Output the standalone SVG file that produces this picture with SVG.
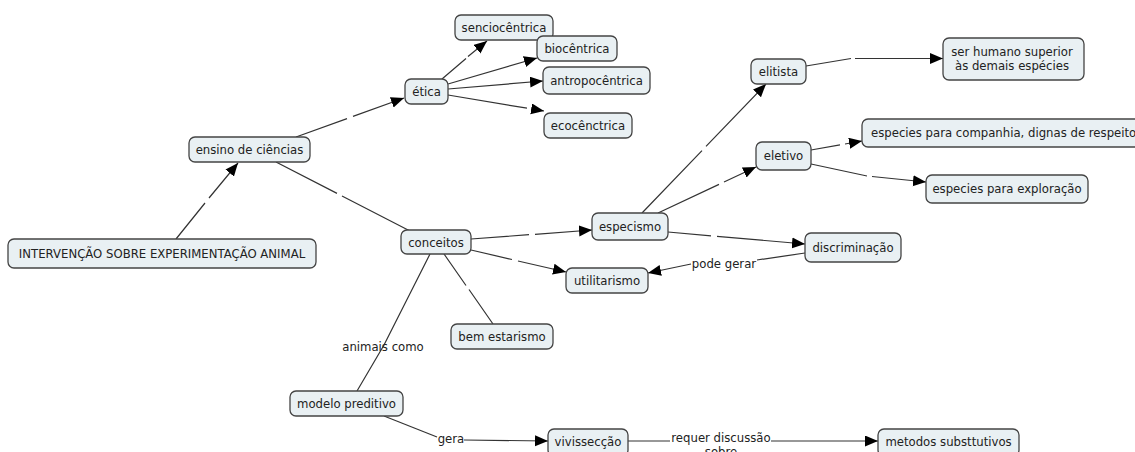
<svg xmlns="http://www.w3.org/2000/svg" width="1135" height="452" viewBox="0 0 1135 452">
<style>
.n rect{fill:#e9f0f3;stroke:#444;stroke-width:1.3}
text{font-family:"DejaVu Sans","Verdana",sans-serif;font-size:11.7px;fill:#222;text-anchor:middle}
.c path{fill:none;stroke:#333;stroke-width:1.2}
</style>
<defs>
<marker id="ah" markerUnits="userSpaceOnUse" markerWidth="14" markerHeight="12" refX="13" refY="5.5" orient="auto">
<path d="M0,0 L13,5.5 L0,11 Z" fill="#000"/>
</marker>
</defs>
<rect width="1135" height="452" fill="#fff"/>
<g class="c" id="connectors">
<path d="M176,239 L205,203 M209,198 L238,163" marker-end="url(#ah)"/>
<path d="M296,137 L347,118.6 M353,116.4 L404,98" marker-end="url(#ah)"/>
<path d="M276,162 L337,193.4 M342,196 L410,231"/>
<path d="M442,79 L466,58.5 M468,56.5 L487,41" marker-end="url(#ah)"/>
<path d="M448,84 L537,58" marker-end="url(#ah)"/>
<path d="M448,89 L543,81" marker-end="url(#ah)"/>
<path d="M448,95 L527,108.2 M532,109 L544,111" marker-end="url(#ah)"/>
<path d="M471,239 L529,234.7 M535,234.3 L592,230" marker-end="url(#ah)"/>
<path d="M471,250 L512,259.5 M518,261 L566,272" marker-end="url(#ah)"/>
<path d="M444,254 L466,285.5 M469,289.5 L493,324"/>
<path d="M430,254 L384,345 L357,391"/>
<path d="M642,213 L702,150.6 M706,146.4 L766,84" marker-end="url(#ah)"/>
<path d="M658,213 L719,184.4 M724,182 L756,167" marker-end="url(#ah)"/>
<path d="M668,232 L711,235.8 M717,236.3 L805,244" marker-end="url(#ah)"/>
<path d="M805,253 L757,260"/>
<path d="M691,264 L648,273" marker-end="url(#ah)"/>
<path d="M806,66 L851,58.5 M855,58.5 L943,58.5" marker-end="url(#ah)"/>
<path d="M811,150 L840,144.9 M845,144 L862,141" marker-end="url(#ah)"/>
<path d="M811,164 L867,176 M872,176.5 L926,182" marker-end="url(#ah)"/>
<path d="M384,416 L437,437"/>
<path d="M464,440 L548,441" marker-end="url(#ah)"/>
<path d="M628,441 L670,441"/>
<path d="M771,441 L878,441" marker-end="url(#ah)"/>
<text x="383" y="351">animais como</text>
<text x="724" y="268">pode gerar</text>
<text x="451" y="443">gera</text>
<text x="721" y="442">requer discussão</text>
<text x="721" y="456">sobre</text>
</g>
<g class="n" id="n-intervencao"><rect x="8" y="239" width="308" height="29" rx="6"/><text x="162" y="258">INTERVENÇÃO SOBRE EXPERIMENTAÇÃO ANIMAL</text></g>
<g class="n" id="n-ensino"><rect x="189" y="137" width="121" height="25" rx="6"/><text x="249.5" y="154">ensino de ciências</text></g>
<g class="n" id="n-etica"><rect x="405" y="79" width="43" height="25" rx="6"/><text x="426.5" y="96">ética</text></g>
<g class="n" id="n-senciocentrica"><rect x="455" y="15" width="98" height="25" rx="6"/><text x="504" y="32">senciocêntrica</text></g>
<g class="n" id="n-biocentrica"><rect x="537" y="36" width="80" height="25" rx="6"/><text x="577" y="53">biocêntrica</text></g>
<g class="n" id="n-antropocentrica"><rect x="543" y="67" width="107" height="27" rx="6"/><text x="596.5" y="85">antropocêntrica</text></g>
<g class="n" id="n-ecocentrica"><rect x="544" y="113" width="88" height="25" rx="6"/><text x="588" y="130">ecocênctrica</text></g>
<g class="n" id="n-elitista"><rect x="751" y="59" width="55" height="25" rx="6"/><text x="778.5" y="76">elitista</text></g>
<g class="n" id="n-serhumano"><rect x="943" y="38" width="141" height="42" rx="6"/><text x="1012" y="56">ser humano superior</text><text x="1012" y="70">às demais espécies</text></g>
<g class="n" id="n-companhia"><rect x="862" y="119" width="280" height="28" rx="6"/><text x="871" y="137" style="text-anchor:start">especies para companhia, dignas de respeito</text></g>
<g class="n" id="n-eletivo"><rect x="756" y="142" width="55" height="28" rx="6"/><text x="783.5" y="160">eletivo</text></g>
<g class="n" id="n-exploracao"><rect x="926" y="175" width="162" height="28" rx="6"/><text x="1007" y="193">especies para exploração</text></g>
<g class="n" id="n-conceitos"><rect x="401" y="230" width="70" height="24" rx="6"/><text x="436" y="246.5">conceitos</text></g>
<g class="n" id="n-especismo"><rect x="592" y="213" width="76" height="27" rx="6"/><text x="630" y="231">especismo</text></g>
<g class="n" id="n-utilitarismo"><rect x="566" y="268" width="82" height="25" rx="6"/><text x="607" y="285">utilitarismo</text></g>
<g class="n" id="n-bemestarismo"><rect x="451" y="324" width="102" height="25" rx="6"/><text x="502" y="341">bem estarismo</text></g>
<g class="n" id="n-discriminacao"><rect x="805" y="233" width="96" height="29" rx="6"/><text x="853" y="252">discriminação</text></g>
<g class="n" id="n-modelo"><rect x="290" y="391" width="113" height="25" rx="6"/><text x="346.5" y="408">modelo preditivo</text></g>
<g class="n" id="n-vivisseccao"><rect x="548" y="429" width="80" height="27" rx="6"/><text x="588" y="446">vivissecção</text></g>
<g class="n" id="n-metodos"><rect x="878" y="429" width="141" height="27" rx="6"/><text x="948.5" y="446">metodos substtutivos</text></g>
</svg>
